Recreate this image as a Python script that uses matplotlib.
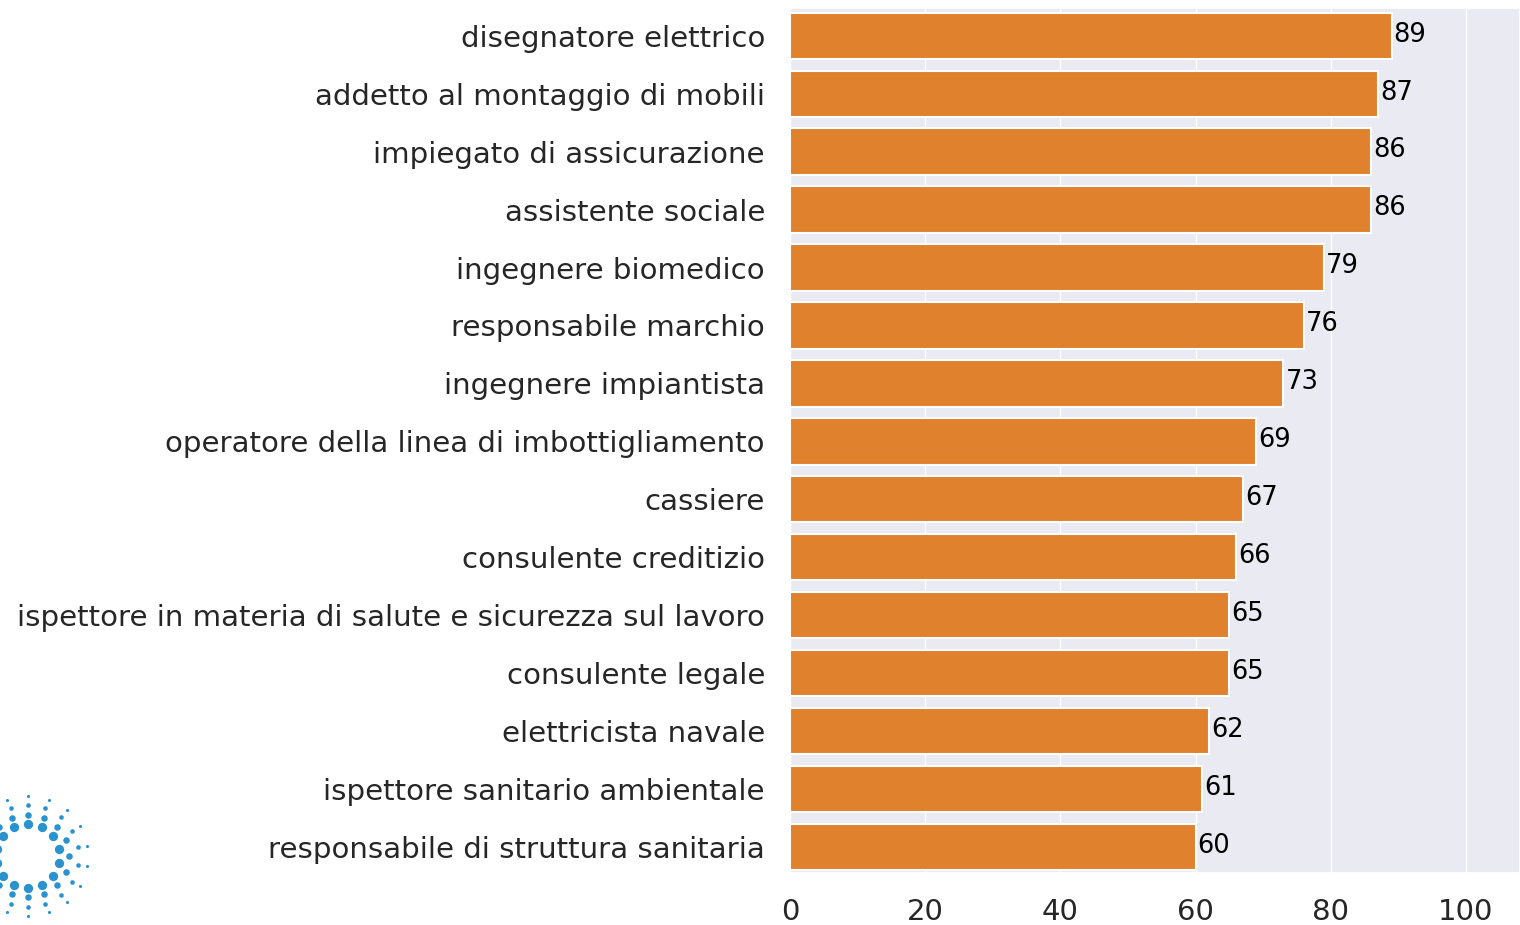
import numpy as np
import matplotlib
matplotlib.use("Agg")
import matplotlib.pyplot as plt
import seaborn as sns

jobs = ['disegnatore elettrico', 'addetto al montaggio di mobili', 'impiegato di assicurazione',
        'assistente sociale', 'ingegnere biomedico', 'responsabile marchio',
        'ingegnere impiantista', 'operatore della linea di imbottigliamento', 'cassiere',
        'consulente creditizio', 'ispettore in materia di salute e sicurezza sul lavoro',
        'consulente legale', 'elettricista navale', 'ispettore sanitario ambientale',
        'responsabile di struttura sanitaria']
scores = [89, 87, 86, 86, 79, 76, 73, 69, 67, 66, 65, 65, 62, 61, 60]

sns.set_theme(style="darkgrid")
plt.rcParams['font.family'] = ['DejaVu Sans']

fig = plt.figure(figsize=(15.2, 9.25), dpi=100)
ax = fig.add_axes([0.5197, 0.0562, 0.4803, 0.9352])

y = np.arange(len(jobs))
bars = ax.barh(y, scores, height=0.8, color='#e0812e', edgecolor='white', linewidth=1.5)
for yi, v in zip(y, scores):
    ax.text(v + 0.3, yi - 0.02, str(v), va='center', ha='left', fontsize=18.5, color='black')

ax.set_yticks(y)
ax.set_yticklabels(jobs, fontsize=21.1)
ax.set_ylim(len(jobs) - 0.55, -0.48)
ax.set_xlim(0, 108)
ax.set_xticks([0, 20, 40, 60, 80, 100])
ax.tick_params(axis='x', labelsize=21, pad=12)
ax.tick_params(axis='y', pad=12)
ax.grid(axis='y', visible=False)

# logo-ish dot ring in the corner (axes in pixel units)
lax = fig.add_axes([0.0, 0.0, 0.1, 0.2])
lax.set_xlim(0, 152)
lax.set_ylim(0, 185)
lax.axis('off')
cx, cy = 28, 69
for r, s, n in [(32, 45, 14), (41, 22, 16), (51, 11, 18), (60, 5, 18)]:
    ang = np.linspace(0, 2 * np.pi, n, endpoint=False) + (np.pi / n if n % 4 else 0)
    lax.scatter(cx + r * np.cos(ang), cy + r * np.sin(ang), s=s, color='#2a93cf', linewidths=0)

fig.savefig('out.png', dpi=100)
